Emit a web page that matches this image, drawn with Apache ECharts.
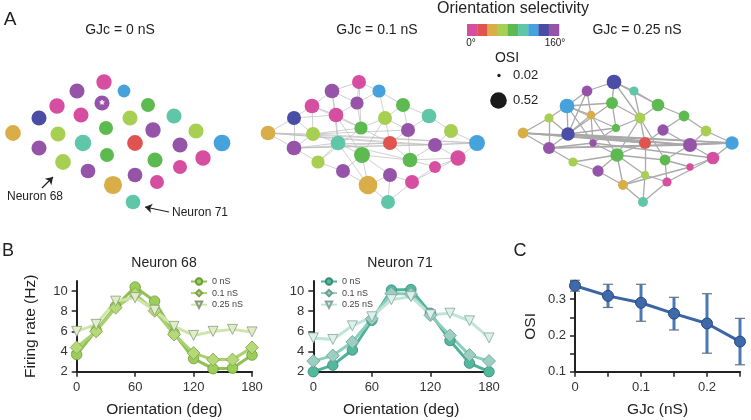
<!DOCTYPE html>
<html><head><meta charset="utf-8">
<script src="https://cdn.jsdelivr.net/npm/echarts@6/dist/echarts.min.js"></script>
<style>html,body{margin:0;padding:0;background:#fff}#c{width:751px;height:420px}</style>
</head><body><div id="c"></div>
<script>
// ---------------- Panel A: network layout (shared by the three panels) ----------------
const nodeX = [104,77,124,57,102,148,39,81,130,174,13,58,106,153,196,39,83,135,180,222,63,107,155,203,88,135,180,113,157,133];
const nodeY = [82,91,91,106,103,105,118,115,118,116,133,134,128,130,131,148,143,143,145,143,162,155,160,158,171,175,167,185,182,202];
// preferred orientation (deg) of each neuron
const prefOri0   = [0,160,120,0,160,80,140,0,60,100,40,60,80,160,60,160,100,20,160,120,60,80,80,0,160,160,0,40,0,100];
const prefOri01  = [0,160,120,0,160,80,140,0,60,100,40,60,80,160,60,160,100,20,160,120,60,80,80,0,160,160,0,40,0,100];
const prefOri025 = [140,160,100,120,80,80,60,40,60,80,40,140,80,160,60,160,160,20,160,120,60,80,80,0,160,60,0,40,0,100];
// OSI of each neuron
const osi0   = [0.45,0.43,0.31,0.45,0.43,0.37,0.43,0.43,0.43,0.43,0.47,0.43,0.37,0.45,0.43,0.43,0.52,0.47,0.43,0.53,0.47,0.37,0.43,0.45,0.41,0.41,0.37,0.62,0.37,0.41];
const osi01  = [0.37,0.41,0.33,0.41,0.33,0.37,0.37,0.41,0.37,0.41,0.41,0.37,0.33,0.37,0.37,0.41,0.41,0.37,0.37,0.48,0.33,0.48,0.41,0.44,0.37,0.37,0.27,0.66,0.37,0.37];
const osi025 = [0.41,0.22,0.16,0.41,0.27,0.30,0.16,0.14,0.22,0.22,0.22,0.34,0.12,0.24,0.22,0.27,0.10,0.27,0.37,0.34,0.16,0.34,0.22,0.30,0.24,0.12,0.10,0.19,0.16,0.19];
const starredNeuron = 4;
const neuron68 = 20, neuron71 = 29;
// gap-junction links (1-based neuron ids)
const links01 = [[11,7],[11,16],[11,12],[11,18],[11,19],[11,20],[7,4],[7,12],[7,16],[7,8],[4,2],[4,8],[4,12],[4,13],
 [2,1],[2,5],[2,8],[2,17],[1,3],[1,5],[1,13],[3,6],[3,9],[3,5],[6,10],[6,9],[6,14],[10,15],[10,14],[15,20],[15,19],
 [20,24],[20,19],[20,16],[20,12],[24,27],[24,29],[24,23],[24,19],[27,29],[27,23],[29,30],[29,26],[30,28],[30,26],
 [28,25],[28,22],[28,26],[28,17],[25,21],[25,22],[21,16],[21,17],[21,13],[16,12],[16,17],[16,18],[16,19],[12,13],
 [12,17],[12,14],[13,9],[13,18],[13,5],[17,22],[17,18],[17,23],[18,19],[18,14],[18,23],[22,23],[22,26],[22,9],
 [23,19],[23,14],[14,9],[8,13],[8,17],[8,22],[9,18],[5,8]];
const links025 = [[11,7],[11,16],[11,18],[11,19],[11,20],[16,20],[16,19],[12,19],[12,18],[7,4],[7,16],[7,12],
 [4,2],[4,5],[4,12],[4,8],[4,13],[4,17],[2,1],[2,8],[2,12],[1,3],[1,5],[1,6],[1,9],[3,6],[3,9],[6,10],[6,9],
 [10,15],[10,14],[15,20],[15,19],[5,9],[5,13],[5,12],[8,12],[8,17],[8,22],[13,9],[13,17],[13,12],[9,18],[9,22],
 [9,23],[14,19],[14,18],[19,24],[19,20],[19,23],[20,24],[24,27],[24,29],[23,27],[23,29],[23,22],[18,22],[18,26],
 [22,26],[22,25],[22,28],[22,21],[21,16],[21,25],[16,17],[16,12],[26,29],[26,28],[26,30],[28,30],[28,25],[28,27],
 [29,30],[17,22],[17,24],[12,20]];
const oriTicks = ['0°','160°'];
const osiLegend = [0.02, 0.52];

// ---------------- Panel B: tuning curves ----------------
const orientations = [0,20,40,60,80,100,120,140,160,180];
const n68_0   = [3.7,6.1,8.5,10.4,9.0,5.8,3.3,2.3,2.35,3.65];
const n68_01  = [4.4,6.0,8.35,9.7,8.05,5.7,3.85,3.2,3.2,4.4];
const n68_025 = [6.0,6.7,9.0,9.35,8.1,6.5,5.6,6.0,6.2,5.95];
const n71_0   = [2.0,2.65,4.15,7.1,10.1,10.15,7.8,5.1,2.85,2.0];
const n71_01  = [3.05,3.6,4.95,7.25,9.75,9.7,7.6,5.6,3.65,3.05];
const n71_025 = [5.35,5.2,6.55,7.45,9.15,9.45,7.65,7.8,7.05,5.35];
const gjcNames = ['0 nS','0.1 nS','0.25 nS'];
const rateTicks = [2,4,6,8,10];

// ---------------- Panel C: mean OSI ----------------
const gjc = [0,0.05,0.1,0.15,0.2,0.25];
const osiMean = [0.337,0.309,0.290,0.260,0.233,0.183];
const osiErr  = [0.015,0.032,0.051,0.045,0.082,0.064];
const gjcTicks = [0,0.05,0.1,0.15,0.2,0.25];
const gjcLabels = [0,0.1,0.2];
const osiTicks = [0.1,0.15,0.2,0.25,0.3,0.35];
const osiLabels = [0.1,0.2,0.3];

// ---------------- styling ----------------
const FONT = "'Liberation Sans', Arial, Helvetica, sans-serif";
const oriColors = ['#d64ea0','#df5350','#d9ad48','#a7cf52','#5cba50','#5fc7a8','#46a2dc','#4a4da5','#9654a9'];
const colorFor = o => oriColors[Math.round(o/20)];
const sizeFor = v => 23*Math.sqrt(v);

function nodeData(ori, osi, star) {
  return nodeX.map((x,i) => {
    const d = {value:[x, nodeY[i], ori[i], osi[i]]};
    if (star && i === starredNeuron) d.label = {show:true, formatter:'*', color:'#fff', fontSize:13, fontWeight:'bold', position:'inside', offset:[0,2]};
    return d;
  });
}
function edgeData(links) {
  return links.map(([a,b]) => ({coords:[[nodeX[a-1],nodeY[a-1]],[nodeX[b-1],nodeY[b-1]]]}));
}
const gridsA = [0,255,510].map(l => ({left:l, top:0, width:240, height:220, outerBoundsMode:'none'}));
const axisCommon = {
  axisLine:{show:true, onZero:false, lineStyle:{color:'#222', width:2}},
  axisTick:{show:true, length:5, lineStyle:{color:'#222', width:1.5}},
  splitLine:{show:false},
  nameLocation:'middle',
  nameTextStyle:{fontSize:15.5, color:'#222', fontFamily:FONT}
};
function lbl(custom, fmt) {
  return {color:'#333', fontSize:13, margin:9, fontFamily:FONT, customValues:custom, formatter:fmt};
}
const xAxes = [], yAxes = [];
for (let g=0; g<3; g++) {
  xAxes.push({type:'value', gridIndex:g, min:0, max:240, show:false});
  yAxes.push({type:'value', gridIndex:g, min:0, max:220, inverse:true, show:false});
}
[3,4].forEach(g => {
  xAxes.push(Object.assign({}, axisCommon, {type:'value', gridIndex:g, min:0, max:180, interval:60,
    name:'Orientation (deg)', nameGap:30, axisLabel:lbl(undefined)}));
  yAxes.push(Object.assign({}, axisCommon, {type:'value', gridIndex:g, min:2, max:11, interval:2,
    name: g===3 ? 'Firing rate (Hz)' : '', nameGap:38,
    axisLabel:lbl(rateTicks),
    axisTick:{show:true, length:5, lineStyle:{color:'#222', width:1.5}, customValues:rateTicks}}));
});
xAxes.push(Object.assign({}, axisCommon, {type:'value', gridIndex:5, min:0, max:0.25, interval:0.05,
  name:'GJc (nS)', nameGap:30, axisLabel:lbl(gjcLabels, v => String(+v.toFixed(2))),
  axisTick:{show:true, length:5, lineStyle:{color:'#222', width:1.5}, customValues:gjcTicks}}));
yAxes.push(Object.assign({}, axisCommon, {type:'value', gridIndex:5, min:0.1, max:0.35, interval:0.05,
  name:'OSI', nameGap:36, axisLabel:lbl(osiLabels, v => String(+v.toFixed(2))),
  axisTick:{show:true, length:5, lineStyle:{color:'#222', width:1.5}, customValues:osiTicks}}));

const series = [];
series.push({type:'lines', coordinateSystem:'cartesian2d', xAxisIndex:1, yAxisIndex:1, silent:true, z:1,
  lineStyle:{color:'#bcbcbc', width:0.7, opacity:1}, data:edgeData(links01)});
series.push({type:'lines', coordinateSystem:'cartesian2d', xAxisIndex:2, yAxisIndex:2, silent:true, z:1,
  lineStyle:{color:'#a9a9a9', width:1.3, opacity:1}, data:edgeData(links025)});
[[prefOri0,osi0,true],[prefOri01,osi01,false],[prefOri025,osi025,false]].forEach(([o,s,st],g) => {
  series.push({type:'scatter', xAxisIndex:g, yAxisIndex:g, z:3, silent:true,
    symbolSize: v => sizeFor(v[3]),
    itemStyle:{color: p => colorFor(p.value[2]), opacity:1},
    data:nodeData(o,s,st)});
});
// arrows pointing at neurons 68 and 71
series.push({type:'lines', coordinateSystem:'cartesian2d', xAxisIndex:0, yAxisIndex:0, silent:true, z:4,
  symbol:['none','arrow'], symbolSize:7, lineStyle:{color:'#222', width:1.2, opacity:1},
  data:[
    {coords:[[nodeX[neuron68]-21,nodeY[neuron68]+26],[nodeX[neuron68]-10,nodeY[neuron68]+15]]},
    {coords:[[nodeX[neuron71]+36,nodeY[neuron71]+10],[nodeX[neuron71]+12,nodeY[neuron71]+5]]}
  ]});

const styles68 = [
  {line:'#8fc255', fill:'#9ccd58', border:'#6f9a3c', symbol:'circle', size:10.5, rot:0},
  {line:'#a9d171', fill:'#b5d977', border:'#7fa24f', symbol:'diamond', size:13, rot:0},
  {line:'#cfe5aa', fill:'#e0eec8', border:'#8c9a7c', symbol:'triangle', size:10, rot:180}];
const styles71 = [
  {line:'#4db49a', fill:'#52b89e', border:'#3a8c77', symbol:'circle', size:10.5, rot:0},
  {line:'#8ccdbb', fill:'#9ccfc1', border:'#6a9e90', symbol:'diamond', size:13, rot:0},
  {line:'#bfe5d9', fill:'#dcf1eb', border:'#86a59c', symbol:'triangle', size:10, rot:180}];
function tuning(prefix, vals, styles, g) {
  vals.forEach((v,k) => {
    const s = styles[k];
    series.push({type:'line', name:prefix+'|'+gjcNames[k], xAxisIndex:g, yAxisIndex:g, clip:false,
      data: orientations.map((o,i) => [o, v[i]]),
      symbol:s.symbol, symbolSize:s.size, symbolRotate:s.rot, showAllSymbol:true,
      lineStyle:{color:s.line, width:3}, itemStyle:{color:s.fill, borderColor:s.border, borderWidth:0.8},
      emphasis:{disabled:true}});
  });
}
tuning('n68', [n68_0,n68_01,n68_025], styles68, 3);
tuning('n71', [n71_0,n71_01,n71_025], styles71, 4);

series.push({type:'custom', xAxisIndex:5, yAxisIndex:5, clip:false, z:2,
  data: gjc.map((x,i) => [x, osiMean[i], osiErr[i]]),
  renderItem:(params, api) => {
    const x = api.value(0), m = api.value(1), e = api.value(2);
    const t = api.coord([x, m+e]), b = api.coord([x, m-e]);
    const cw = 5;
    return {type:'group', children:[
      {type:'line', shape:{x1:t[0],y1:t[1],x2:b[0],y2:b[1]}, style:{stroke:'#4a79b8', lineWidth:3}},
      {type:'line', shape:{x1:t[0]-cw,y1:t[1],x2:t[0]+cw,y2:t[1]}, style:{stroke:'#6b7280', lineWidth:1.2}},
      {type:'line', shape:{x1:b[0]-cw,y1:b[1],x2:b[0]+cw,y2:b[1]}, style:{stroke:'#6b7280', lineWidth:1.2}}
    ]};
  }});
series.push({type:'line', xAxisIndex:5, yAxisIndex:5, z:3, clip:false,
  data: gjc.map((x,i) => [x, osiMean[i]]),
  symbol:'circle', symbolSize:11, lineStyle:{color:'#3a65a6', width:3},
  itemStyle:{color:'#3e69ab', borderColor:'#2a4a7e', borderWidth:1}, emphasis:{disabled:true}});

// ---------------- annotations ----------------
const txt = (text, x, y, size, opts) => ({type:'text', x, y, z:10, silent:true,
  style:Object.assign({text, fill:'#222', font: size+'px '+FONT, textAlign:'center', textVerticalAlign:'middle'}, opts||{})});
const graphic = [
  txt('A', 10, 20, 19), txt('B', 8, 251, 18), txt('C', 520, 251, 18),
  txt('GJc = 0 nS', 120, 30, 14), txt('GJc = 0.1 nS', 377, 30, 14), txt('GJc = 0.25 nS', 637, 30, 14),
  txt('Orientation selectivity', 513, 9, 16),
  txt(oriTicks[0], 471, 43, 10), txt(oriTicks[1], 555, 43, 10),
  txt('OSI', 507, 58, 14),
  txt(String(osiLegend[0]), 513, 75.5, 13, {textAlign:'left'}),
  txt(String(osiLegend[1]), 513, 100.5, 13, {textAlign:'left'}),
  {type:'circle', shape:{cx:499, cy:75.5, r:sizeFor(osiLegend[0])/2}, style:{fill:'#1a1a1a'}, silent:true},
  {type:'circle', shape:{cx:498.5, cy:100.5, r:sizeFor(osiLegend[1])/2}, style:{fill:'#1a1a1a'}, silent:true},
  txt('Neuron 68', 7, 197, 12, {textAlign:'left'}),
  txt('Neuron 71', 172, 213, 12, {textAlign:'left'}),
  txt('Neuron 68', 164, 263, 14), txt('Neuron 71', 400, 263, 14)
];
oriColors.forEach((c,i) => graphic.push({type:'rect', silent:true,
  shape:{x:467 + i*10.22, y:24, width:10.5, height:12}, style:{fill:c}}));

const legendCommon = {orient:'vertical', top:277, itemWidth:16, itemHeight:8, itemGap:2.6, selectedMode:false,
  textStyle:{fontSize:9, color:'#444', fontFamily:FONT}, formatter: n => n.split('|')[1], padding:0};

const chart = echarts.init(document.getElementById('c'), null, {renderer:'canvas'});
chart.setOption({
  animation:false,
  backgroundColor:'#fff',
  textStyle:{fontFamily:FONT},
  grid: gridsA.concat([
    {left:76.7, top:281, width:175.3, height:90.7, outerBoundsMode:'none'},
    {left:313.3, top:281, width:175.7, height:90.7, outerBoundsMode:'none'},
    {left:575, top:281, width:165, height:90.7, outerBoundsMode:'none'}]),
  xAxis: xAxes, yAxis: yAxes,
  legend:[
    Object.assign({left:190, data:gjcNames.map(n => 'n68|'+n)}, legendCommon),
    Object.assign({left:320, data:gjcNames.map(n => 'n71|'+n)}, legendCommon)],
  series, graphic
});
</script></body></html>
